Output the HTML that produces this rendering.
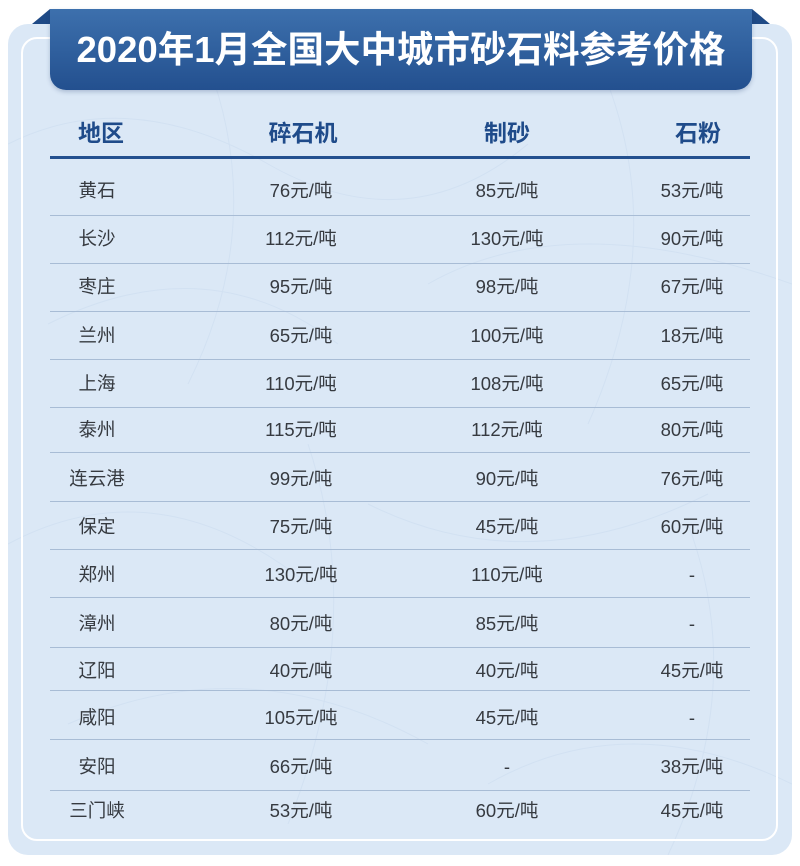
<!DOCTYPE html>
<html><head><meta charset="utf-8">
<style>
html,body{margin:0;padding:0;}
body{width:800px;height:866px;position:relative;background:#fff;overflow:hidden;font-family:"Liberation Sans","Noto Sans CJK SC",sans-serif;}
.outer{position:absolute;left:8px;top:24px;width:784px;height:831px;border-radius:20px;background:#dbe8f6;overflow:hidden;}
.inner{position:absolute;left:21px;top:37px;width:757px;height:804px;border:2px solid #fff;border-radius:16px;box-sizing:border-box;}
.banner{position:absolute;left:50px;top:9px;width:702px;height:81px;border-radius:0 0 16px 16px;background:linear-gradient(#3d70ad,#23508f);box-shadow:0 2px 4px rgba(30,60,110,0.25);}
.title{position:absolute;left:50px;top:9px;width:702px;height:81px;line-height:81px;text-align:center;color:#fff;font-weight:bold;font-size:36.5px;white-space:nowrap;}
.hd{position:absolute;height:30px;line-height:30px;width:160px;margin-left:-80px;text-align:center;color:#1f4b8a;font-weight:bold;font-size:23px;white-space:nowrap;}
.c{position:absolute;height:30px;line-height:30px;width:160px;margin-left:-80px;text-align:center;color:#363a40;font-size:18.5px;white-space:nowrap;}
.hl{position:absolute;left:50px;width:700px;top:156px;height:3px;background:#23508f;}
.sep{position:absolute;left:50px;width:700px;height:1px;background:#a8bcd5;}
</style></head><body>
<div class="outer">
<svg width="784" height="831" style="position:absolute;left:0;top:0" fill="none" stroke="#d2e1f2" stroke-width="1">
<path d="M0 120 Q120 60 260 140 T520 120"/>
<path d="M40 300 Q200 220 330 320"/>
<path d="M420 260 Q560 180 784 260"/>
<path d="M0 520 Q150 440 300 560"/>
<path d="M360 480 Q520 560 700 470"/>
<path d="M60 700 Q240 620 420 720"/>
<path d="M480 760 Q620 680 784 760"/>
<path d="M200 40 Q260 200 180 360"/>
<path d="M600 60 Q660 220 580 400"/>
<path d="M300 420 Q360 600 280 800"/>
<path d="M680 500 Q740 660 660 831"/>
</svg>
</div>
<svg width="800" height="40" style="position:absolute;left:0;top:0">
<polygon points="32,24 50,9 50,24" fill="#1f4a86"/>
<polygon points="752,9 770,24 752,24" fill="#1f4a86"/>
</svg>
<div class="inner"></div>
<div class="banner"></div>
<div class="title">2020年1月全国大中城市砂石料参考价格</div>

<div class="hd" style="left:101px;top:118px">地区</div>
<div class="hd" style="left:303px;top:118px">碎石机</div>
<div class="hd" style="left:507px;top:118px">制砂</div>
<div class="hd" style="left:698px;top:118px">石粉</div>
<div class="hl"></div>

<div class="sep" style="top:215px"></div>
<div class="sep" style="top:263px"></div>
<div class="sep" style="top:311px"></div>
<div class="sep" style="top:359px"></div>
<div class="sep" style="top:407px"></div>
<div class="sep" style="top:452px"></div>
<div class="sep" style="top:501px"></div>
<div class="sep" style="top:549px"></div>
<div class="sep" style="top:597px"></div>
<div class="sep" style="top:647px"></div>
<div class="sep" style="top:690px"></div>
<div class="sep" style="top:739px"></div>
<div class="sep" style="top:790px"></div>

<div class="c" style="left:97px;top:176px">黄石</div><div class="c" style="left:301px;top:176px">76元/吨</div><div class="c" style="left:507px;top:176px">85元/吨</div><div class="c" style="left:692px;top:176px">53元/吨</div>
<div class="c" style="left:97px;top:224px">长沙</div><div class="c" style="left:301px;top:224px">112元/吨</div><div class="c" style="left:507px;top:224px">130元/吨</div><div class="c" style="left:692px;top:224px">90元/吨</div>
<div class="c" style="left:97px;top:272px">枣庄</div><div class="c" style="left:301px;top:272px">95元/吨</div><div class="c" style="left:507px;top:272px">98元/吨</div><div class="c" style="left:692px;top:272px">67元/吨</div>
<div class="c" style="left:97px;top:321px">兰州</div><div class="c" style="left:301px;top:321px">65元/吨</div><div class="c" style="left:507px;top:321px">100元/吨</div><div class="c" style="left:692px;top:321px">18元/吨</div>
<div class="c" style="left:97px;top:369px">上海</div><div class="c" style="left:301px;top:369px">110元/吨</div><div class="c" style="left:507px;top:369px">108元/吨</div><div class="c" style="left:692px;top:369px">65元/吨</div>
<div class="c" style="left:97px;top:415px">泰州</div><div class="c" style="left:301px;top:415px">115元/吨</div><div class="c" style="left:507px;top:415px">112元/吨</div><div class="c" style="left:692px;top:415px">80元/吨</div>
<div class="c" style="left:97px;top:464px">连云港</div><div class="c" style="left:301px;top:464px">99元/吨</div><div class="c" style="left:507px;top:464px">90元/吨</div><div class="c" style="left:692px;top:464px">76元/吨</div>
<div class="c" style="left:97px;top:512px">保定</div><div class="c" style="left:301px;top:512px">75元/吨</div><div class="c" style="left:507px;top:512px">45元/吨</div><div class="c" style="left:692px;top:512px">60元/吨</div>
<div class="c" style="left:97px;top:560px">郑州</div><div class="c" style="left:301px;top:560px">130元/吨</div><div class="c" style="left:507px;top:560px">110元/吨</div><div class="c" style="left:692px;top:560px">-</div>
<div class="c" style="left:97px;top:609px">漳州</div><div class="c" style="left:301px;top:609px">80元/吨</div><div class="c" style="left:507px;top:609px">85元/吨</div><div class="c" style="left:692px;top:609px">-</div>
<div class="c" style="left:97px;top:656px">辽阳</div><div class="c" style="left:301px;top:656px">40元/吨</div><div class="c" style="left:507px;top:656px">40元/吨</div><div class="c" style="left:692px;top:656px">45元/吨</div>
<div class="c" style="left:97px;top:703px">咸阳</div><div class="c" style="left:301px;top:703px">105元/吨</div><div class="c" style="left:507px;top:703px">45元/吨</div><div class="c" style="left:692px;top:703px">-</div>
<div class="c" style="left:97px;top:752px">安阳</div><div class="c" style="left:301px;top:752px">66元/吨</div><div class="c" style="left:507px;top:752px">-</div><div class="c" style="left:692px;top:752px">38元/吨</div>
<div class="c" style="left:97px;top:796px">三门峡</div><div class="c" style="left:301px;top:796px">53元/吨</div><div class="c" style="left:507px;top:796px">60元/吨</div><div class="c" style="left:692px;top:796px">45元/吨</div>
</body></html>
